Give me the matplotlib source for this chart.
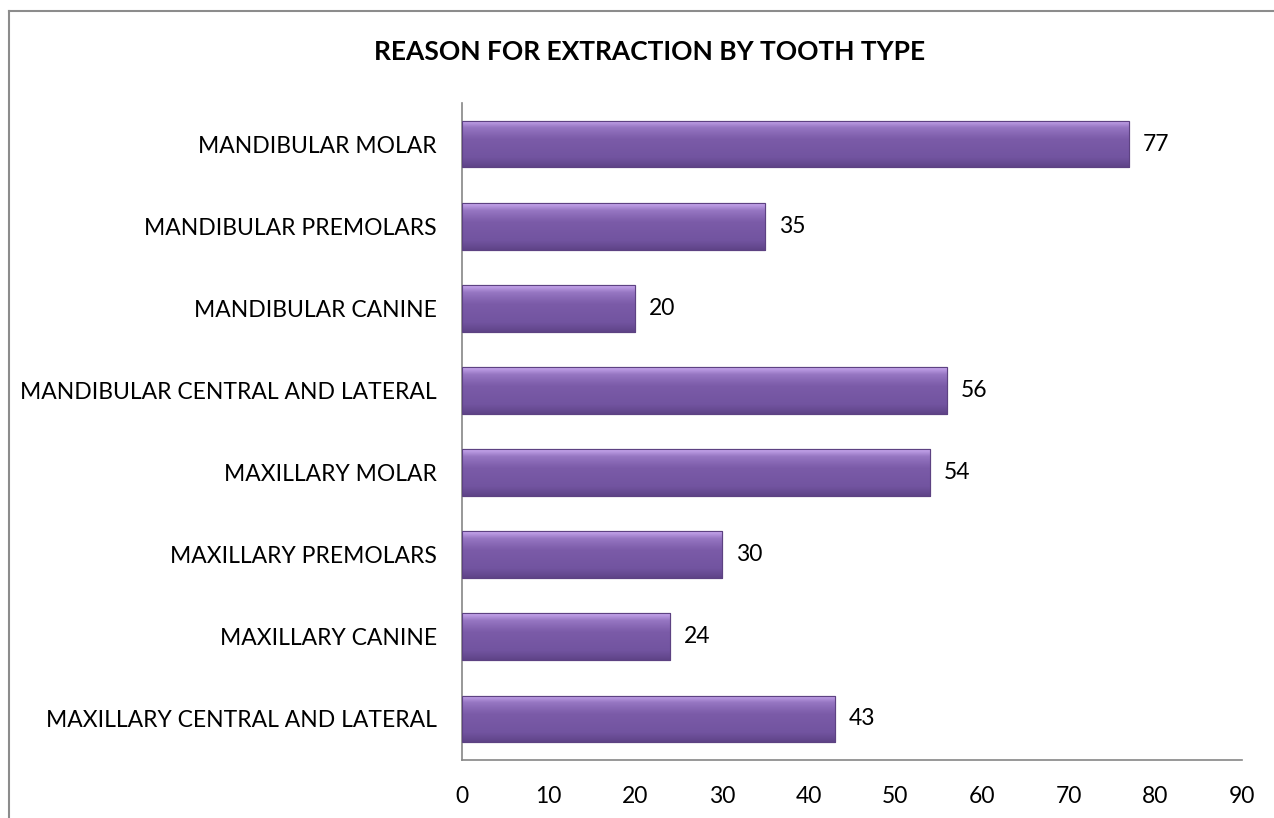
import matplotlib
matplotlib.use("Agg")
import matplotlib.pyplot as plt
import numpy as np
from matplotlib.lines import Line2D

categories = ["MAXILLARY CENTRAL AND LATERAL", "MAXILLARY CANINE", "MAXILLARY PREMOLARS",
              "MAXILLARY MOLAR", "MANDIBULAR CENTRAL AND LATERAL", "MANDIBULAR CANINE",
              "MANDIBULAR PREMOLARS", "MANDIBULAR MOLAR"]
values = [43, 24, 30, 54, 56, 20, 35, 77]
xticks = [0, 10, 20, 30, 40, 50, 60, 70, 80, 90]
title = "REASON FOR EXTRACTION BY TOOTH TYPE"

plt.rcParams['font.family'] = ['Lato', 'DejaVu Sans']
FS = 16.5

fig = plt.figure(figsize=(12.74, 8.18), dpi=100)
ax = fig.add_axes([462/1274, 1-760/818, (1242-462)/1274, (760-103)/818])

y = np.arange(len(categories))
bars = ax.barh(y, values, height=0.57, color='#7A5AA6', edgecolor='#5D4282', linewidth=0.8, zorder=2)

# gradient overlay for 3D-like look
cmap = matplotlib.colors.LinearSegmentedColormap.from_list(
    'g', [(0, '#5F4488'), (0.2, '#7254A0'), (0.6, '#7B5BA8'), (0.85, '#9676C2'), (1.0, '#C8A8EE')])
grad = np.linspace(0, 1, 64).reshape(-1, 1)
for b in bars:
    x0, y0 = b.get_x(), b.get_y()
    w, h = b.get_width(), b.get_height()
    im = ax.imshow(grad, extent=[x0, x0 + w, y0, y0 + h], origin='lower', aspect='auto',
                   cmap=cmap, zorder=2.5, interpolation='bicubic')
    im.set_clip_path(b)
    ax.add_patch(matplotlib.patches.Rectangle((x0, y0), w, h, fill=False,
                                              edgecolor='#5D4282', linewidth=0.8, zorder=3))

for yi, v in zip(y, values):
    ax.text(v + 1.6, yi, str(v), va='center', ha='left', fontsize=FS, color='black')

ax.set_xlim(0, 90)
ax.set_ylim(-0.5, len(categories) - 0.5)
ax.set_yticks(y)
ax.set_yticklabels(categories, fontsize=FS)
ax.set_xticks(xticks)
ax.set_xticklabels([str(t) for t in xticks], fontsize=FS)
ax.tick_params(axis='both', length=0)
ax.tick_params(axis='y', pad=18)
ax.tick_params(axis='x', pad=19)
for s in ['top', 'right']:
    ax.spines[s].set_visible(False)
for s in ['left', 'bottom']:
    ax.spines[s].set_color('#868686')
    ax.spines[s].set_linewidth(1.2)

fig.text(650/1274, 1-52/818, title, ha='center', va='center', fontsize=19, fontweight='bold')

# outer chart frame
fig.add_artist(Line2D([9/1274, 9/1274], [0, 1-11/818], color='#8c8c8c', linewidth=1.5, transform=fig.transFigure))
fig.add_artist(Line2D([9/1274, 1], [1-11/818, 1-11/818], color='#8c8c8c', linewidth=1.5, transform=fig.transFigure))

fig.savefig('out.png', dpi=100)
